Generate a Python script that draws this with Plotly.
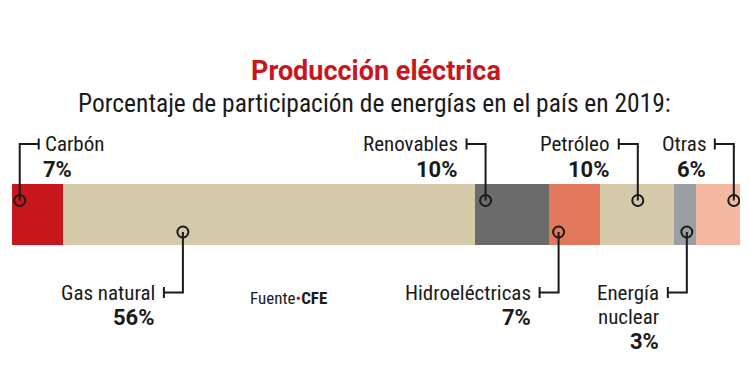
import plotly.graph_objects as go

categories = ["Carbón", "Gas natural", "Renovables", "Hidroeléctricas", "Petróleo", "Energía nuclear", "Otras"]
values = [7, 56, 10, 7, 10, 3, 6]
label_text = ["Carbón", "Gas natural", "Renovables", "Hidroeléctricas", "Petróleo", "Energía<br>nuclear", "Otras"]
colors = ["#c8161d", "#d4caa9", "#6b6b6b", "#e2785b", "#d4caa9", "#9b9fa1", "#f2b9a0"]

# layout config for callouts (pixel-based)
dot_frac = [0.15, 0.29, 0.14, 0.19, 0.51, 0.59, 0.86]
side = ["up", "down", "up", "down", "up", "down", "up"]
lead_dir = [1, -1, -1, -1, -1, -1, -1]

W, H = 750, 368
L, R = 12, 10
total = sum(values)
PX = (W - L - R) / total  # pixels per unit

def px2x(px):
    return (px - L) / PX

BAR_Y = 214.5
BAR_W = 61
TXT = "#1a1a1a"
FONT = "Roboto Condensed, Liberation Sans Narrow, DejaVu Sans Condensed, Roboto, sans-serif"
BFONT = "Roboto, sans-serif"
LINE_GAP = 24

fig = go.Figure()
for c, v, col in zip(categories, values, colors):
    fig.add_trace(go.Bar(
        y=[BAR_Y], x=[v], orientation="h", width=BAR_W, name=c,
        marker=dict(color=col, line=dict(width=0)), hoverinfo="skip", showlegend=False))

starts = []
acc = 0
for v in values:
    starts.append(acc)
    acc += v

annotations = []
dot_x, dot_y = [], []
for i, c in enumerate(categories):
    dx = starts[i] + dot_frac[i] * values[i]
    if side[i] == "up":
        dy = BAR_Y - 14
        ly = 144
    else:
        dy = BAR_Y + 17.5
        ly = 292.5
    dot_x.append(dx)
    dot_y.append(dy)
    ex = dx + lead_dir[i] * 19 / PX
    fig.add_trace(go.Scatter(x=[dx, dx, ex], y=[dy, ly, ly], mode="lines",
                             line=dict(color=TXT, width=2), hoverinfo="skip", showlegend=False))
    fig.add_trace(go.Scatter(x=[ex, ex], y=[ly - 5.5, ly + 5.5], mode="lines",
                             line=dict(color=TXT, width=2), hoverinfo="skip", showlegend=False))
    if lead_dir[i] > 0:
        tx = ex + 4 / PX
        anchor = "left"
        ptx = ex + 2 / PX
    else:
        tx = ex - 7 / PX
        anchor = "right"
        ptx = tx
    lines = label_text[i].split("<br>")
    for k, t in enumerate(lines):
        annotations.append(dict(x=tx, y=ly + k * LINE_GAP, xref="x", yref="y", text=t, showarrow=False,
                                xanchor=anchor, yanchor="middle",
                                font=dict(family=FONT, size=21, color=TXT)))
    ppy = ly + len(lines) * LINE_GAP + 1
    annotations.append(dict(x=ptx, y=ppy, xref="x", yref="y", text="<b>%d%%</b>" % values[i], showarrow=False,
                            xanchor=anchor, yanchor="middle",
                            font=dict(family=BFONT, size=22, color=TXT)))

fig.add_trace(go.Scatter(x=dot_x, y=dot_y, mode="markers",
                         marker=dict(size=11, color="rgba(0,0,0,0)", line=dict(color=TXT, width=2)),
                         hoverinfo="skip", showlegend=False))

annotations.append(dict(x=(376 - L) / (W - L - R), y=71, xref="paper", yref="y",
                        text="<b>Producción eléctrica</b>", showarrow=False,
                        font=dict(family=BFONT, size=27, color="#c8161d"), xanchor="center", yanchor="middle"))
annotations.append(dict(x=(374 - L) / (W - L - R), y=103, xref="paper", yref="y",
                        text="Porcentaje de participación de energías en el país en 2019:", showarrow=False,
                        font=dict(family=FONT, size=25.5, color=TXT), xanchor="center", yanchor="middle"))
annotations.append(dict(x=px2x(248), y=298, xref="x", yref="y",
                        text="Fuente<span style='color:#c8161d'>•</span><b>CFE</b>", showarrow=False,
                        font=dict(family=FONT, size=17, color=TXT), xanchor="left", yanchor="middle"))

fig.update_layout(
    width=W, height=H, margin=dict(l=L, r=R, t=0, b=0),
    paper_bgcolor="white", plot_bgcolor="white", barmode="stack", bargap=0,
    xaxis=dict(range=[0, total], visible=False, fixedrange=True),
    yaxis=dict(range=[H, 0], visible=False, fixedrange=True),
    annotations=annotations,
)
fig.write_html("out.html", config={"displayModeBar": False},
               post_script="document.body.style.margin='0';document.body.style.padding='0';document.body.style.overflow='hidden';")
